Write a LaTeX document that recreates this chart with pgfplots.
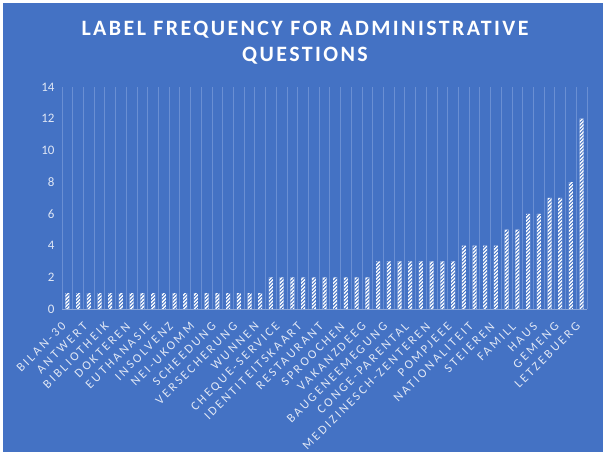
\documentclass[border=0pt]{standalone}
\usepackage{fontspec}
\setmainfont{Carlito}
\newfontfamily\titlefont[LetterSpace=11]{Carlito}
\newfontfamily\labfont[LetterSpace=20]{Carlito}
\usepackage{pgfplots}
\pgfplotsset{compat=1.18}
\usetikzlibrary{patterns.meta}
\definecolor{bg}{HTML}{4472C4}
\definecolor{gridc}{HTML}{6A8FD3}
\definecolor{axl}{HTML}{8EA9DB}
\definecolor{txt}{HTML}{E0E7F5}
\begin{document}
\begin{tikzpicture}[x=1bp,y=1bp]
\fill[white] (0,0) rectangle (603,452);
\fill[bg] (3,0) rectangle (603,449);
\path[use as bounding box] (0,0) rectangle (603,452);
\node[anchor=base, white, font=\titlefont\bfseries\fontsize{22}{24}\selectfont] at (305,416) {LABEL FREQUENCY FOR ADMINISTRATIVE};
\node[anchor=base, white, font=\titlefont\bfseries\fontsize{22}{24}\selectfont] at (305,390) {QUESTIONS};
\begin{axis}[at={(62bp,143bp)}, anchor=south west, scale only axis,
  width=525bp, height=222bp,
  xmin=-0.5, xmax=48.5, ymin=0, ymax=14,
  ytick={0,2,...,14},
  xtick={0,2,...,48},
  xticklabels={BILAN-30,ANTWERT,BIBLIOTHEIK,DOKTEREN,EUTHANASIE,INSOLVENZ,NEI-UKOMM,SCHEEDUNG,VERSECHERUNG,WUNNEN,CHEQUE-SERVICE,IDENTITEITSKAART,RESTAURANT,SPROOCHEN,VAKANZDEEG,BAUGENEEMEGUNG,CONGE-PARENTAL,MEDIZINESCH-ZENTEREN,POMPJEEE,NATIONALITEIT,STEIEREN,FAMILL,HAUS,GEMENG,LETZEBUERG},
  minor xtick={-0.5,0.5,...,48.5},
  xminorgrids, minor grid style={draw=gridc, line width=0.8bp},
  axis x line*=bottom, axis y line*=left,
  x axis line style={draw=axl, line width=0.8bp, -},
  y axis line style={draw=none},
  major tick length=0pt, minor tick length=0pt,
  tick style={draw=none},
  /pgf/number format/assume math mode=true,
  y tick label style={font=\fontsize{13}{13}\selectfont, text=txt, xshift=-4bp},
  x tick label style={xshift=-1bp, yshift=-13bp, rotate=45, anchor=east, font=\labfont\fontsize{12.5}{12.5}\selectfont, text=txt},
  clip=false,
]
\addplot[ybar, bar width=4bp, draw=none, preaction={fill=white}, pattern={Lines[angle=45,distance=2.5bp,line width=0.9bp]}, pattern color=bg]
coordinates {
(0,1)(1,1)(2,1)(3,1)(4,1)(5,1)(6,1)(7,1)(8,1)(9,1)(10,1)(11,1)(12,1)(13,1)(14,1)(15,1)(16,1)(17,1)(18,1)
(19,2)(20,2)(21,2)(22,2)(23,2)(24,2)(25,2)(26,2)(27,2)(28,2)
(29,3)(30,3)(31,3)(32,3)(33,3)(34,3)(35,3)(36,3)
(37,4)(38,4)(39,4)(40,4)
(41,5)(42,5)(43,6)(44,6)(45,7)(46,7)(47,8)(48,12)
};
\end{axis}
\end{tikzpicture}
\end{document}
